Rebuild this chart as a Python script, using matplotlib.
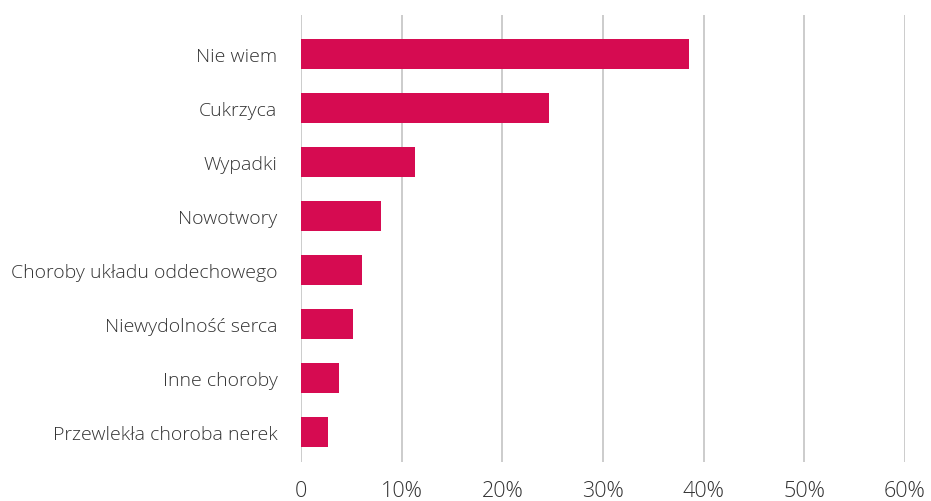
import matplotlib.pyplot as plt
from matplotlib.ticker import FuncFormatter

plt.rcParams['font.family'] = ['Open Sans', 'DejaVu Sans']

# Przyczyny - udział odpowiedzi (%)
kategorie = ['Nie wiem', 'Cukrzyca', 'Wypadki', 'Nowotwory',
             'Choroby układu oddechowego', 'Niewydolność serca',
             'Inne choroby', 'Przewlekła choroba nerek']
wartosci = [38.5, 24.6, 11.3, 7.9, 6.1, 5.2, 3.8, 2.7]
xticks = [0, 10, 20, 30, 40, 50, 60]

fig = plt.figure(figsize=(9.31, 5.02), dpi=100)
ax = fig.add_axes([301 / 931, 1 - 463 / 502, 604 / 931, 447 / 502])

pozycje = range(len(kategorie))
ax.barh(pozycje, wartosci, height=0.556, color='#D60B51', zorder=3)

ax.set_xlim(0, 60)
ax.set_ylim(7.556, -0.722)
ax.set_xticks(xticks)
ax.xaxis.set_major_formatter(FuncFormatter(lambda v, _: '0' if v == 0 else f'{v:.0f}%'))
ax.set_yticks(list(pozycje))
ax.set_yticklabels(kategorie)

ax.grid(axis='x', color='#BFBFBF', linewidth=1.1, zorder=0)
for s in ax.spines.values():
    s.set_visible(False)
ax.tick_params(axis='both', length=0, colors='#333333')
ax.tick_params(axis='y', pad=17, labelsize=14)
ax.tick_params(axis='x', pad=13, labelsize=15.5)
for t in ax.get_xticklabels() + ax.get_yticklabels():
    t.set_fontweight('light')

fig.savefig('out.png', dpi=100)
